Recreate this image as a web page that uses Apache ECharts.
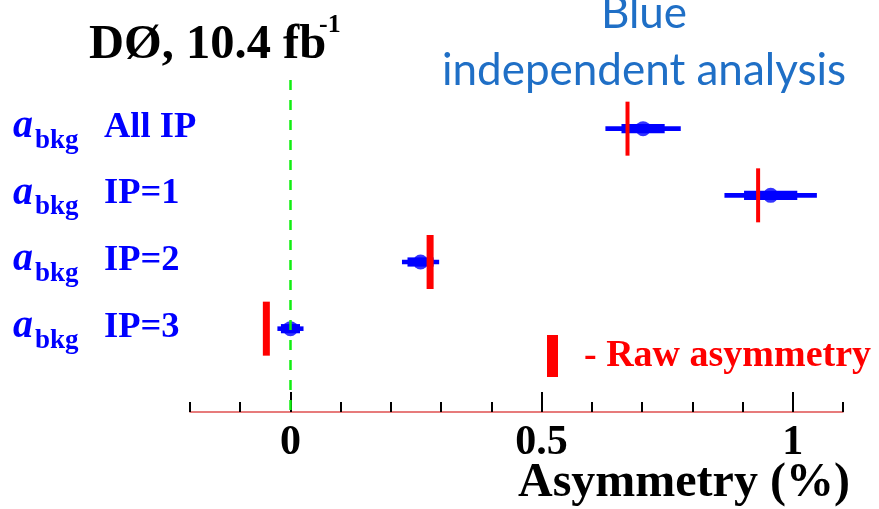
<!DOCTYPE html>
<html>
<head>
<meta charset="utf-8">
<script src="https://cdn.jsdelivr.net/npm/echarts@6/dist/echarts.min.js"></script>
<style>
  html, body { margin: 0; padding: 0; background: #fff; }
  #chart { width: 879px; height: 509px; }
</style>
</head>
<body>
<div id="chart"></div>
<script>
// background asymmetry per IP category (in %)
const categories = ['All IP', 'IP=1', 'IP=2', 'IP=3']
const central = [0.702, 0.956, 0.259, 0.000]
const statErr = [0.043, 0.053, 0.026, 0.019]
const totalErr = [0.075, 0.092, 0.037, 0.026]
const rawAsym = [0.671, 0.931, 0.278, -0.048]

const majorTicks = [0, 0.5, 1]
const minorTicks = [-0.2, -0.1, 0, 0.1, 0.2, 0.3, 0.4, 0.5, 0.6, 0.7, 0.8, 0.9, 1, 1.1]

const serif = '"Liberation Serif", "Times New Roman", serif'
const BLUE = '#0000ff'
const RED = '#ff0000'

// widths of the red raw-asymmetry marks, px
const rawMarkWidth = [4, 4, 7, 7]

const chart = echarts.init(document.getElementById('chart'), null, { renderer: 'canvas' })

const rows = categories.map((c, i) => i + 1)

function errorBars(params, api) {
  const i = params.dataIndex
  const y = api.value(0)
  const c = api.value(1)
  const t0 = api.coord([c - totalErr[i], y])
  const t1 = api.coord([c + totalErr[i], y])
  const s0 = api.coord([c - statErr[i], y])
  const s1 = api.coord([c + statErr[i], y])
  return {
    type: 'group',
    children: [
      { type: 'rect', shape: { x: t0[0], y: t0[1] - 2.3, width: t1[0] - t0[0], height: 4.6 }, style: { fill: BLUE } },
      { type: 'rect', shape: { x: s0[0], y: s0[1] - 4.6, width: s1[0] - s0[0], height: 9.2 }, style: { fill: BLUE } }
    ]
  }
}

function rawMarks(params, api) {
  const i = params.dataIndex
  const p = api.coord([api.value(1), api.value(0)])
  const w = rawMarkWidth[i]
  return {
    type: 'rect',
    shape: { x: p[0] - w / 2, y: p[1] - 27, width: w, height: 54 },
    style: { fill: RED }
  }
}

chart.setOption({
  animation: false,
  grid: { left: 190, right: 36, top: 62, bottom: 97, containLabel: false },
  xAxis: [
    {
      type: 'value',
      position: 'bottom',
      min: -0.2,
      max: 1.1,
      axisLine: { show: true, onZero: false, lineStyle: { color: '#e05050', width: 1.5 } },
      axisTick: { show: true, inside: true, length: 20, customValues: majorTicks, lineStyle: { color: '#000', width: 2 } },
      axisLabel: { show: false },
      splitLine: { show: false }
    },
    {
      type: 'value',
      position: 'bottom',
      min: -0.2,
      max: 1.1,
      axisLine: { show: false, onZero: false },
      axisTick: { show: true, inside: true, length: 10, customValues: minorTicks, lineStyle: { color: '#000', width: 2 } },
      axisLabel: { show: false },
      splitLine: { show: false }
    }
  ],
  yAxis: {
    type: 'value',
    inverse: true,
    min: 0,
    max: 5.25,
    show: false
  },
  series: [
    {
      type: 'custom',
      renderItem: errorBars,
      data: rows.map((r, i) => [r, central[i]]),
      encode: { x: 1, y: 0 },
      z: 3
    },
    {
      type: 'scatter',
      symbol: 'circle',
      symbolSize: 15,
      itemStyle: { color: BLUE },
      data: rows.map((r, i) => [central[i], r]),
      z: 4,
      markLine: {
        silent: true,
        symbol: ['none', 'none'],
        label: { show: false },
        lineStyle: { color: '#11ee11', width: 2.5, type: [10, 10] },
        data: [[{ coord: [0, 0.27] }, { coord: [0, 5.25] }]]
      }
    },
    {
      type: 'custom',
      renderItem: rawMarks,
      data: rows.map((r, i) => [r, rawAsym[i]]),
      encode: { x: 1, y: 0 },
      z: 5
    }
  ]
})

// text placed by baseline (canvas 'middle' sits about k em above the baseline)
function txt(x, baseline, text, size, fill, extra) {
  const k = (extra && extra.k) || 0.24
  return {
    type: 'text',
    x: x,
    y: baseline - k * size,
    silent: true,
    style: Object.assign({
      text: text,
      fontFamily: serif,
      fontWeight: 'bold',
      fontSize: size,
      fill: fill,
      align: 'left',
      verticalAlign: 'middle'
    }, extra && extra.style)
  }
}

const elements = []
categories.forEach((c, i) => {
  const y = chart.convertToPixel({ yAxisIndex: 0 }, rows[i])
  elements.push(txt(13, y + 7.5, 'a', 40, BLUE, { style: { fontStyle: 'italic' } }))
  elements.push(txt(35, y + 18.5, 'bkg', 27, BLUE))
  elements.push(txt(104, y + 7.5, c, 36.5, BLUE))
})

// x tick labels, placed through the x scale
majorTicks.forEach((v) => {
  const x = chart.convertToPixel({ xAxisIndex: 0 }, v)
  elements.push(txt(x, 453, String(v), 42, '#000', { style: { align: 'center' } }))
})

elements.push(txt(89, 57, 'DØ, 10.4 fb', 48.5, '#000'))
elements.push(txt(319, 32, '-1', 26, '#000'))
elements.push(txt(518, 495, 'Asymmetry (%)', 48, '#000'))

const sans = 'Lato, "Open Sans", sans-serif'
const sansStyle = { fontFamily: sans, fontWeight: 'normal', align: 'center' }
elements.push(txt(644, 26, 'Blue', 44, '#1f6fc6', { k: 0.27, style: sansStyle }))
elements.push(txt(644, 83, 'independent analysis', 44, '#1f6fc6', { k: 0.27, style: sansStyle }))

elements.push({ type: 'rect', silent: true, shape: { x: 547, y: 335, width: 11, height: 42 }, style: { fill: RED } })
elements.push(txt(584, 365, '- Raw asymmetry', 38, RED))

chart.setOption({ graphic: { elements: elements } })
</script>
</body>
</html>
